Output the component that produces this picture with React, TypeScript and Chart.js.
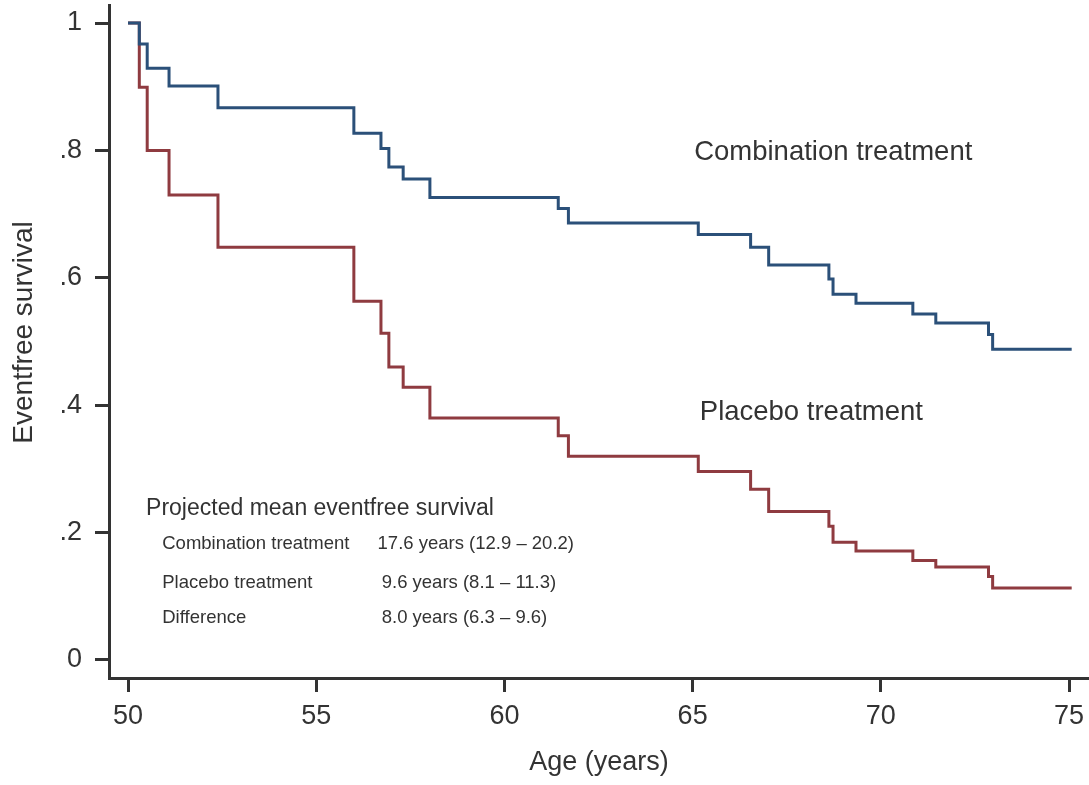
import React, { useEffect, useRef } from "react";
import { Chart, registerables } from "chart.js";

Chart.register(...registerables);

// Event times (age in years) shared by both curves
const startAge = 50;
const endAge = 75.07;
const eventAges = [
  50.3, 50.51, 51.09, 52.39, 56.0, 56.72, 56.93, 57.31, 58.02, 61.43, 61.7,
  65.15, 66.54, 67.02, 68.62, 68.73, 69.34, 70.85, 71.46, 72.86, 72.97,
];
// Survival just after each event
const combinationSurvival = [
  0.967, 0.929, 0.901, 0.867, 0.827, 0.803, 0.774, 0.755, 0.726, 0.709, 0.686,
  0.668, 0.648, 0.62, 0.598, 0.574, 0.56, 0.543, 0.529, 0.511, 0.488,
];
const placeboSurvival = [
  0.899, 0.8, 0.73, 0.648, 0.563, 0.513, 0.46, 0.428, 0.38, 0.352, 0.32,
  0.296, 0.268, 0.233, 0.21, 0.185, 0.171, 0.156, 0.146, 0.131, 0.113,
];
const seriesNames = ["Combination treatment", "Placebo treatment"];

const xTicks = [50, 55, 60, 65, 70, 75];
const yTicks = [0, 0.2, 0.4, 0.6, 0.8, 1];
const yTickLabels = ["0", ".2", ".4", ".6", ".8", "1"];

const xTitle = "Age (years)";
const yTitle = "Eventfree survival";

const insetTitle = "Projected mean eventfree survival";
const insetRows = ["Combination treatment", "Placebo treatment", "Difference"];
const insetValues = [
  "17.6 years (12.9 \u2013 20.2)",
  "9.6 years (8.1 \u2013 11.3)",
  "8.0 years (6.3 \u2013 9.6)",
];

function buildCurve(values: number[]) {
  const pts = [{ x: startAge, y: 1 }];
  eventAges.forEach((a, i) => pts.push({ x: a, y: values[i] }));
  pts.push({ x: endAge, y: values[values.length - 1] });
  return pts;
}

const FONT = '"Liberation Sans", Arial, Helvetica, sans-serif';
const INK = "#333333";

const textPlugin = {
  id: "textPlugin",
  afterDraw(chart: any) {
    const { ctx, scales } = chart;
    const xs = scales.x;
    const ys = scales.y;
    const px = (v: number) => xs.getPixelForValue(v);
    const py = (v: number) => ys.getPixelForValue(v);
    ctx.save();
    ctx.fillStyle = INK;
    ctx.textBaseline = "alphabetic";
    ctx.textAlign = "left";

    ctx.font = `27.5px ${FONT}`;
    ctx.fillText(seriesNames[0], px(65.04), py(0.785));
    ctx.fillText(seriesNames[1], px(65.19), py(0.3768));

    ctx.font = `23px ${FONT}`;
    ctx.fillText(insetTitle, px(50.48), py(0.2276));

    ctx.font = `18.5px ${FONT}`;
    const rowY = [0.1743, 0.1125, 0.0576];
    const valX = [56.63, 56.74, 56.74];
    insetRows.forEach((r, i) => {
      ctx.fillText(r, px(50.91), py(rowY[i]));
      ctx.fillText(insetValues[i], px(valX[i]), py(rowY[i]));
    });

    // y axis title (rotated)
    ctx.font = `28px ${FONT}`;
    ctx.translate(32, 332.5);
    ctx.rotate(-Math.PI / 2);
    ctx.textAlign = "center";
    ctx.fillText(yTitle, 0, 0);
    ctx.restore();
  },
};

export default function App() {
  const ref = useRef<HTMLCanvasElement | null>(null);

  useEffect(() => {
    if (!ref.current) return;
    const chart = new Chart(ref.current, {
      type: "line",
      data: {
        datasets: [
          {
            label: seriesNames[0],
            data: buildCurve(combinationSurvival),
            borderColor: "#2b5079",
            borderWidth: 3,
            stepped: "before",
            pointRadius: 0,
            fill: false,
            borderJoinStyle: "miter",
          },
          {
            label: seriesNames[1],
            data: buildCurve(placeboSurvival),
            borderColor: "#8f3b40",
            borderWidth: 3,
            stepped: "before",
            pointRadius: 0,
            fill: false,
            borderJoinStyle: "miter",
          },
        ],
      },
      options: {
        responsive: false,
        animation: false,
        layout: { padding: { top: 5, right: 0, bottom: 0, left: 0 } },
        plugins: {
          legend: { display: false },
          tooltip: { enabled: false },
        },
        scales: {
          x: {
            type: "linear",
            min: 49.495,
            max: 75.53,
            afterBuildTicks: (s: any) => {
              s.ticks = xTicks.map((v) => ({ value: v }));
            },
            afterFit: (s: any) => {
              s.height = 107;
              s.paddingLeft = 0;
              s.paddingRight = 0;
              s.paddingTop = 0;
              s.paddingBottom = 0;
            },
            grid: {
              drawOnChartArea: false,
              drawTicks: true,
              tickLength: 14,
              tickWidth: 3,
              tickColor: INK,
            },
            border: { display: true, color: INK, width: 3 },
            ticks: {
              color: INK,
              font: { family: FONT, size: 27 },
              padding: 8,
              maxRotation: 0,
              autoSkip: false,
              callback: (v: any) => String(v),
            },
            title: {
              display: true,
              text: xTitle,
              color: INK,
              font: { family: FONT, size: 27 },
              padding: { top: 0, bottom: 6 },
            },
          },
          y: {
            type: "linear",
            min: -0.0283,
            max: 1.0283,
            afterBuildTicks: (s: any) => {
              s.ticks = yTicks.map((v) => ({ value: v }));
            },
            afterFit: (s: any) => {
              s.width = 109;
              s.paddingLeft = 0;
              s.paddingRight = 0;
              s.paddingTop = 0;
              s.paddingBottom = 0;
            },
            grid: {
              drawOnChartArea: false,
              drawTicks: true,
              tickLength: 14,
              tickWidth: 3,
              tickColor: INK,
            },
            border: { display: true, color: INK, width: 3 },
            ticks: {
              color: INK,
              font: { family: FONT, size: 27 },
              padding: 13,
              autoSkip: false,
              callback: (v: any) => {
                const i = yTicks.findIndex((t) => Math.abs(t - v) < 1e-9);
                return i >= 0 ? yTickLabels[i] : "";
              },
            },
          },
        },
      },
      plugins: [textPlugin],
    } as any);
    return () => chart.destroy();
  }, []);

  return (
    <div style={{ position: "absolute", left: 0, top: 0, width: 1089, height: 785, background: "#fff" }}>
      <canvas ref={ref} width={1089} height={785} />
    </div>
  );
}
